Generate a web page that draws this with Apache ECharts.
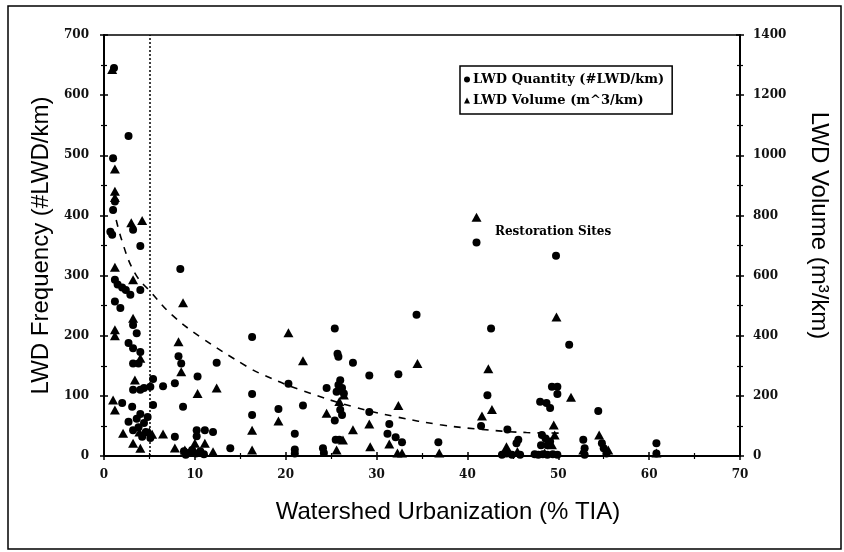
<!DOCTYPE html>
<html>
<head>
<meta charset="utf-8">
<script src="https://cdn.jsdelivr.net/npm/echarts@6/dist/echarts.min.js"></script>
<style>
  html, body { margin: 0; padding: 0; background: #fff; }
  #chart { width: 844px; height: 552px; }
</style>
</head>
<body>
<div id="chart"></div>
<script>
// LWD Quantity (#LWD/km) — circles, left axis: [% TIA, #LWD/km]
const quantityPoints = [
  [1.1, 645], [2.7, 532], [1.0, 495], [1.2, 423], [1.0, 409], [0.7, 373], [0.9, 368], [3.2, 376],
  [4.0, 349], [8.4, 311], [1.2, 293], [1.5, 285], [2.0, 280], [2.4, 276], [4.0, 276], [2.9, 268],
  [1.2, 257], [1.8, 246], [3.2, 218], [3.6, 204], [2.7, 188], [3.2, 179], [4.0, 173], [3.2, 154],
  [3.8, 154], [8.2, 166], [8.5, 154], [12.4, 155], [16.3, 198], [10.3, 132], [5.4, 128], [6.5, 116],
  [7.8, 121], [3.2, 110], [4.0, 110], [4.4, 113], [5.1, 115], [2.0, 88], [3.1, 82], [5.4, 85],
  [8.7, 82], [16.3, 103], [16.3, 68], [2.7, 57], [3.2, 43], [3.6, 62], [4.0, 70], [4.4, 55],
  [4.8, 65], [3.8, 48], [4.6, 40], [5.1, 30], [4.2, 32], [7.8, 32], [10.2, 43], [11.1, 43],
  [12.0, 40], [10.2, 33], [13.9, 13], [8.8, 8], [9.3, 5], [9.7, 10], [10.1, 4], [10.6, 8],
  [11.0, 3], [9.0, 2],
  [20.3, 120], [25.4, 212], [34.4, 235], [25.7, 170], [25.8, 165], [27.4, 155], [29.2, 134], [32.4, 136],
  [24.5, 113], [26.0, 126], [25.8, 118], [26.2, 113], [25.6, 107], [26.4, 104], [26.0, 77], [26.2, 68],
  [25.4, 59], [19.2, 78], [21.9, 84], [21.0, 37], [29.2, 73], [31.4, 53], [31.2, 37], [32.1, 31],
  [32.8, 23], [25.5, 27], [25.9, 27], [36.8, 23], [21.0, 11], [24.1, 13], [21.0, 4], [24.2, 5],
  [41.0, 355], [49.75, 333], [42.6, 212], [51.2, 185], [49.3, 115], [49.9, 115], [49.9, 103], [42.2, 101],
  [48.0, 90], [48.7, 88], [49.1, 80], [54.4, 75], [41.5, 50], [44.4, 44], [45.6, 27], [45.4, 21],
  [52.75, 27], [52.9, 13], [52.9, 2], [48.2, 35], [48.6, 29], [49.1, 24], [48.8, 18], [48.1, 18],
  [54.8, 21], [55.0, 13], [55.3, 4], [60.8, 21], [43.8, 2], [44.3, 4], [44.9, 2], [45.8, 2],
  [47.4, 3], [47.8, 2], [48.3, 3], [48.8, 2], [49.4, 3], [49.9, 2], [60.8, 4]
];

// LWD Volume (m^3/km) — triangles, right axis: [% TIA, m^3/km]
const volumePoints = [
  [0.9, 1285], [1.2, 954], [1.2, 880], [1.2, 860], [3.0, 776], [4.2, 783], [1.2, 628], [3.2, 586],
  [8.7, 510], [3.2, 458], [1.2, 420], [1.2, 400], [4.0, 325], [8.2, 380], [8.5, 280], [12.4, 226],
  [10.3, 208], [3.4, 253], [1.0, 186], [1.2, 153], [16.3, 86], [2.1, 76], [3.9, 80], [5.0, 81],
  [5.3, 72], [6.5, 73], [3.2, 42], [4.0, 26], [7.8, 27], [8.9, 20], [10.0, 42], [11.1, 42],
  [12.0, 14], [16.3, 20],
  [20.3, 410], [21.9, 317], [34.5, 308], [25.9, 220], [26.4, 203], [25.9, 181], [24.5, 142], [19.2, 116],
  [29.2, 106], [32.4, 168], [27.4, 87], [31.4, 40], [29.3, 31], [26.3, 53], [25.6, 20], [32.3, 10],
  [32.8, 10], [36.9, 10],
  [41.0, 794], [49.8, 462], [42.3, 290], [51.4, 195], [42.7, 155], [41.6, 133], [49.5, 103], [54.5, 70],
  [49.6, 70], [49.3, 37], [44.3, 31], [52.75, 20], [55.5, 20], [60.8, 10], [45.5, 15], [48.5, 10]
];

// Dashed trend curve (left axis units)
const trendPoints = [
  [1.0, 415], [1.95, 359], [3.4, 304], [5.25, 271], [7.45, 235], [10.6, 198], [15.7, 149],
  [17.5, 135], [21.6, 110], [27.4, 82], [32.2, 65], [37.0, 52], [41.0, 45], [46.5, 39], [50.7, 38]
];

const thresholdTIA = 5;
const xTicks = { min: 0, max: 70, interval: 10 };
const leftTicks = { min: 0, max: 700, interval: 100 };
const rightTicks = { min: 0, max: 1400, interval: 200 };

const seriesNames = ['LWD Quantity (#LWD/km)', 'LWD Volume (m^3/km)'];
const axisTitles = ['Watershed Urbanization (% TIA)', 'LWD Frequency (#LWD/km)', 'LWD Volume (m³/km)'];
const annotationText = 'Restoration Sites';

const serif = '"DejaVu Serif", "Liberation Serif", serif';
const sans = '"Liberation Sans", Arial, sans-serif';

const chart = echarts.init(document.getElementById('chart'), null, { renderer: 'canvas' });

const tickLabel = { color: '#111', fontFamily: serif, fontWeight: 'bold', fontSize: 12, formatter: v => String(v) };

function mainAxis(base, extra) {
  return Object.assign({
    type: 'value',
    min: base.min, max: base.max, interval: base.interval,
    axisLine: { show: true, onZero: false, lineStyle: { color: '#000', width: 2 } },
    axisTick: { show: true, inside: false, length: 4, lineStyle: { color: '#000', width: 1.5 } },
    minorTick: { show: true, splitNumber: 2, length: 3, lineStyle: { color: '#000', width: 1.2 } },
    splitLine: { show: false },
    axisLabel: Object.assign({}, tickLabel)
  }, extra);
}
function innerAxis(base, extra) {
  return Object.assign({
    type: 'value',
    min: base.min, max: base.max, interval: base.interval,
    axisLine: { show: false, onZero: false },
    axisTick: { show: true, inside: true, length: 4, lineStyle: { color: '#000', width: 1.5 } },
    minorTick: { show: true, splitNumber: 2, length: 3, lineStyle: { color: '#000', width: 1.2 } },
    splitLine: { show: false },
    axisLabel: { show: false }
  }, extra);
}

const titleStyle = { fontFamily: sans, fontSize: 24, color: '#000' };

const option = {
  backgroundColor: '#fff',
  animation: false,
  grid: {
    left: 104, right: 104, top: 35, bottom: 96,
    show: true, borderColor: '#000', borderWidth: 1.5, backgroundColor: 'transparent'
  },
  legend: {
    left: 460, top: 66,
    orient: 'vertical',
    data: [
      { name: seriesNames[0], icon: 'circle' },
      { name: seriesNames[1], icon: 'triangle' }
    ],
    itemWidth: 6, itemHeight: 6, itemGap: 8,
    padding: [7, 8, 7, 4],
    borderColor: '#000', borderWidth: 1.5,
    backgroundColor: '#fff',
    textStyle: { fontFamily: serif, fontWeight: 'bold', fontSize: 13, color: '#000', padding: [0, 0, 0, -2] }
  },
  xAxis: [
    mainAxis(xTicks, {
      position: 'bottom',
      axisLabel: Object.assign({}, tickLabel, { margin: 13 }),
      name: axisTitles[0],
      nameLocation: 'middle', nameGap: 44,
      nameTextStyle: Object.assign({}, titleStyle, { padding: [0, 0, 0, 52] })
    }),
    innerAxis(xTicks, { position: 'bottom' })
  ],
  yAxis: [
    mainAxis(leftTicks, {
      position: 'left',
      axisLabel: Object.assign({}, tickLabel, { margin: 15 }),
      name: axisTitles[1],
      nameLocation: 'middle', nameGap: 51, nameRotate: 90,
      nameTextStyle: titleStyle
    }),
    mainAxis(rightTicks, {
      position: 'right',
      axisLabel: Object.assign({}, tickLabel, { margin: 13 }),
      name: axisTitles[2],
      nameLocation: 'middle', nameGap: 67, nameRotate: -90,
      nameTextStyle: Object.assign({}, titleStyle, { padding: [0, 40, 0, 0] })
    }),
    innerAxis(leftTicks, { position: 'left' }),
    innerAxis(rightTicks, { position: 'right' })
  ],
  series: [
    {
      name: seriesNames[0],
      type: 'scatter',
      xAxisIndex: 0, yAxisIndex: 0,
      symbol: 'circle', symbolSize: 8,
      itemStyle: { color: '#000', opacity: 1 },
      data: quantityPoints,
      markLine: {
        silent: true, symbol: 'none', label: { show: false },
        lineStyle: { color: '#000', type: [2, 2], width: 1.5 },
        data: [{ xAxis: thresholdTIA }]
      },
      z: 3
    },
    {
      name: seriesNames[1],
      type: 'scatter',
      xAxisIndex: 0, yAxisIndex: 1,
      symbol: 'triangle', symbolSize: [10, 9],
      itemStyle: { color: '#000', opacity: 1 },
      data: volumePoints,
      z: 3
    },
    {
      name: 'trend',
      type: 'line',
      xAxisIndex: 0, yAxisIndex: 0,
      smooth: 0.4,
      showSymbol: false, symbol: 'none',
      lineStyle: { color: '#000', width: 1.6, type: [7, 7] },
      data: trendPoints,
      z: 2
    }
  ],
  graphic: [
    {
      type: 'rect', silent: true, z: -1,
      shape: { x: 8, y: 6, width: 833, height: 543 },
      style: { fill: 'none', stroke: '#000', lineWidth: 1.5 }
    },
    {
      type: 'text', silent: true,
      left: 495, top: 226,
      style: { text: annotationText, font: 'bold 12px ' + serif, fill: '#000' }
    }
  ]
};

chart.setOption(option);
</script>
</body>
</html>
